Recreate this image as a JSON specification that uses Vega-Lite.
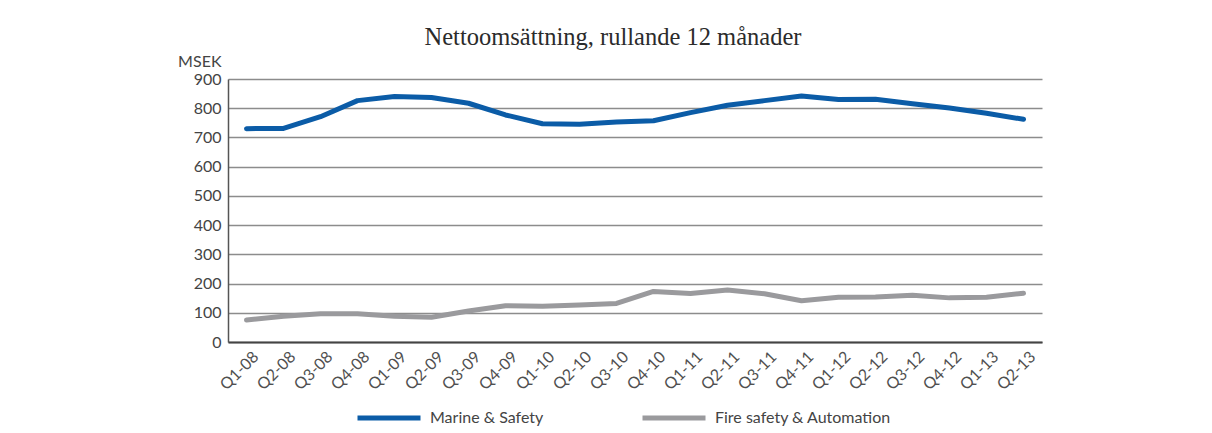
{
  "$schema": "https://vega.github.io/schema/vega-lite/v6.json",
  "width": 814,
  "height": 263,
  "autosize": {"type": "none"},
  "padding": {"left": 228, "top": 79, "right": 170, "bottom": 91},
  "background": "white",
  "title": {
    "text": "Nettoomsättning, rullande 12 månader",
    "font": "Liberation Serif",
    "fontSize": 24.5,
    "fontWeight": "normal",
    "color": "#2b2b2b",
    "anchor": "middle",
    "frame": "group",
    "baseline": "alphabetic",
    "offset": -16,
    "dx": -22
  },
  "data": {
    "values": [
      {"q": "Q1-08", "series": "Marine & Safety", "value": 730},
      {"q": "Q2-08", "series": "Marine & Safety", "value": 731},
      {"q": "Q3-08", "series": "Marine & Safety", "value": 771},
      {"q": "Q4-08", "series": "Marine & Safety", "value": 826},
      {"q": "Q1-09", "series": "Marine & Safety", "value": 840},
      {"q": "Q2-09", "series": "Marine & Safety", "value": 837},
      {"q": "Q3-09", "series": "Marine & Safety", "value": 817},
      {"q": "Q4-09", "series": "Marine & Safety", "value": 777},
      {"q": "Q1-10", "series": "Marine & Safety", "value": 747},
      {"q": "Q2-10", "series": "Marine & Safety", "value": 745},
      {"q": "Q3-10", "series": "Marine & Safety", "value": 753},
      {"q": "Q4-10", "series": "Marine & Safety", "value": 757},
      {"q": "Q1-11", "series": "Marine & Safety", "value": 785},
      {"q": "Q2-11", "series": "Marine & Safety", "value": 810},
      {"q": "Q3-11", "series": "Marine & Safety", "value": 826},
      {"q": "Q4-11", "series": "Marine & Safety", "value": 842},
      {"q": "Q1-12", "series": "Marine & Safety", "value": 830},
      {"q": "Q2-12", "series": "Marine & Safety", "value": 831},
      {"q": "Q3-12", "series": "Marine & Safety", "value": 815},
      {"q": "Q4-12", "series": "Marine & Safety", "value": 801},
      {"q": "Q1-13", "series": "Marine & Safety", "value": 783},
      {"q": "Q2-13", "series": "Marine & Safety", "value": 762},
      {"q": "Q1-08", "series": "Fire safety & Automation", "value": 75},
      {"q": "Q2-08", "series": "Fire safety & Automation", "value": 88},
      {"q": "Q3-08", "series": "Fire safety & Automation", "value": 97},
      {"q": "Q4-08", "series": "Fire safety & Automation", "value": 97},
      {"q": "Q1-09", "series": "Fire safety & Automation", "value": 88},
      {"q": "Q2-09", "series": "Fire safety & Automation", "value": 85},
      {"q": "Q3-09", "series": "Fire safety & Automation", "value": 106},
      {"q": "Q4-09", "series": "Fire safety & Automation", "value": 124},
      {"q": "Q1-10", "series": "Fire safety & Automation", "value": 122},
      {"q": "Q2-10", "series": "Fire safety & Automation", "value": 127},
      {"q": "Q3-10", "series": "Fire safety & Automation", "value": 132},
      {"q": "Q4-10", "series": "Fire safety & Automation", "value": 173},
      {"q": "Q1-11", "series": "Fire safety & Automation", "value": 166},
      {"q": "Q2-11", "series": "Fire safety & Automation", "value": 178},
      {"q": "Q3-11", "series": "Fire safety & Automation", "value": 165},
      {"q": "Q4-11", "series": "Fire safety & Automation", "value": 141},
      {"q": "Q1-12", "series": "Fire safety & Automation", "value": 153},
      {"q": "Q2-12", "series": "Fire safety & Automation", "value": 154},
      {"q": "Q3-12", "series": "Fire safety & Automation", "value": 160},
      {"q": "Q4-12", "series": "Fire safety & Automation", "value": 151},
      {"q": "Q1-13", "series": "Fire safety & Automation", "value": 153},
      {"q": "Q2-13", "series": "Fire safety & Automation", "value": 167}
    ]
  },
  "mark": {"type": "line", "strokeWidth": 5, "strokeCap": "round", "strokeJoin": "round"},
  "encoding": {
    "x": {
      "field": "q",
      "type": "ordinal",
      "sort": null,
      "scale": {"type": "point", "padding": 0.5},
      "axis": {
        "title": null,
        "labelAngle": -45,
        "labelAlign": "right",
        "labelBaseline": "middle",
        "labelFont": "Lato",
        "labelFontSize": 16,
        "labelColor": "#505050",
        "labelPadding": 12,
        "labelOffset": 9,
        "ticks": false,
        "domainColor": "#444444",
        "domainWidth": 2,
        "grid": false
      }
    },
    "y": {
      "field": "value",
      "type": "quantitative",
      "scale": {"domain": [0, 900], "nice": false},
      "axis": {
        "title": "MSEK",
        "titleAngle": 0,
        "titleAlign": "right",
        "titleBaseline": "alphabetic",
        "titleX": -7,
        "titleY": -13,
        "titleFont": "Lato",
        "titleFontSize": 16,
        "titleFontWeight": "normal",
        "titleColor": "#444444",
        "values": [0, 100, 200, 300, 400, 500, 600, 700, 800, 900],
        "labelFont": "Lato",
        "labelFontSize": 16,
        "labelColor": "#444444",
        "labelPadding": 7,
        "ticks": false,
        "domainColor": "#555555",
        "domainWidth": 1.5,
        "grid": true,
        "gridColor": "#8c8c8c",
        "gridWidth": 1.5
      }
    },
    "color": {
      "field": "series",
      "type": "nominal",
      "sort": ["Marine & Safety", "Fire safety & Automation"],
      "scale": {"domain": ["Marine & Safety", "Fire safety & Automation"], "range": ["#0b5ca7", "#9a9a9d"]},
      "legend": {
        "title": null,
        "orient": "none",
        "direction": "horizontal",
        "legendX": 127,
        "legendY": 305,
        "symbolType": "stroke",
        "symbolSize": 3969,
        "symbolStrokeWidth": 5,
        "labelFont": "Lato",
        "labelFontSize": 16,
        "labelColor": "#444444",
        "labelOffset": 7,
        "labelLimit": 400,
        "columnPadding": 88
      }
    }
  },
  "config": {
    "view": {"stroke": null}
  }
}
